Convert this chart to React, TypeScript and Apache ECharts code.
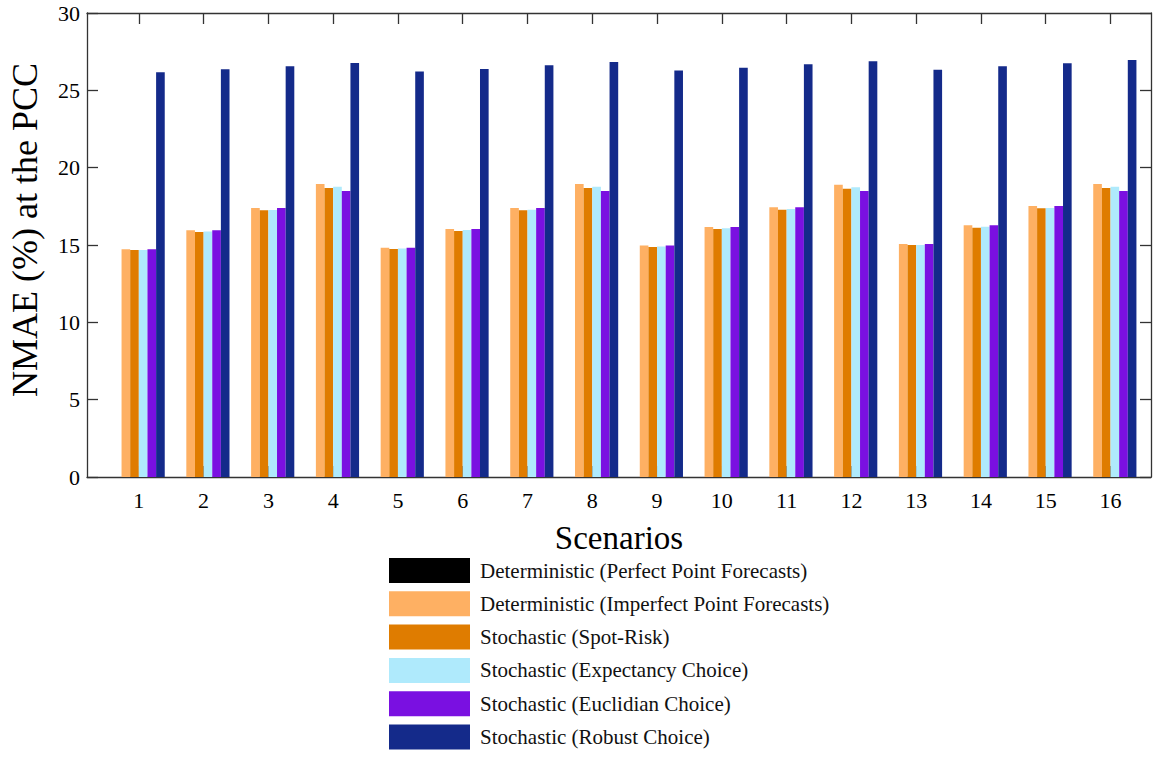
import React, { useEffect, useRef } from "react";
import * as echarts from "echarts";

const scenarios = [1, 2, 3, 4, 5, 6, 7, 8, 9, 10, 11, 12, 13, 14, 15, 16];
const yTicks = [0, 5, 10, 15, 20, 25, 30];

const perfect = [0, 0, 0, 0, 0, 0, 0, 0, 0, 0, 0, 0, 0, 0, 0, 0];
const imperfect = [14.72, 15.95, 17.39, 18.94, 14.83, 16.03, 17.39, 18.94, 14.96, 16.16, 17.44, 18.9, 15.06, 16.27, 17.52, 18.94];
const spotRisk = [14.68, 15.84, 17.24, 18.68, 14.74, 15.9, 17.24, 18.68, 14.87, 16.03, 17.28, 18.64, 15.0, 16.12, 17.37, 18.68];
const expectancy = [14.68, 15.88, 17.26, 18.77, 14.78, 15.97, 17.28, 18.77, 14.91, 16.08, 17.33, 18.73, 15.0, 16.18, 17.39, 18.77];
const euclidian = [14.72, 15.95, 17.39, 18.49, 14.83, 16.03, 17.39, 18.49, 14.96, 16.16, 17.44, 18.49, 15.06, 16.27, 17.52, 18.49];
const robust = [26.17, 26.36, 26.55, 26.77, 26.21, 26.38, 26.62, 26.83, 26.29, 26.46, 26.68, 26.88, 26.33, 26.55, 26.75, 26.96];

const seriesNames = [
  "Deterministic (Perfect Point Forecasts)",
  "Deterministic (Imperfect Point Forecasts)",
  "Stochastic (Spot-Risk)",
  "Stochastic (Expectancy Choice)",
  "Stochastic (Euclidian Choice)",
  "Stochastic (Robust Choice)",
];
const seriesColors = ["#000000", "#FEB063", "#DF7C00", "#AFEAFC", "#7A10E1", "#142A8A"];
const seriesValues = [perfect, imperfect, spotRisk, expectancy, euclidian, robust];

const FONT = "'Liberation Serif', 'Times New Roman', serif";
const FRAME = "#333333";

export default function App() {
  const ref = useRef<HTMLDivElement>(null);
  useEffect(() => {
    document.body.style.margin = "0";
    if (!ref.current) return;
    const chart = echarts.init(ref.current, undefined, { renderer: "svg" });
    const axisLine = { show: true, onZero: false, lineStyle: { color: FRAME, width: 1.3 } };
    const tick = { show: true, inside: true, length: 11, lineStyle: { color: FRAME, width: 1.3 } };
    chart.setOption({
      animation: false,
      backgroundColor: "#ffffff",
      grid: { left: 87, right: 9, top: 13, bottom: 281, containLabel: false },
      legend: {
        orient: "vertical",
        left: 389,
        top: 558,
        padding: 0,
        height: 200,
        itemWidth: 81,
        itemHeight: 25,
        itemGap: 8.3,
        icon: "rect",
        data: seriesNames,
        textStyle: { fontFamily: FONT, fontSize: 21, color: "#111", padding: [0, 0, 0, 5] },
      },
      xAxis: [
        {
          type: "value",
          min: 0.2,
          max: 16.625,
          position: "bottom",
          axisLine,
          axisTick: { ...tick, customValues: scenarios },
          axisLabel: { customValues: scenarios, fontFamily: FONT, fontSize: 22, color: "#000", margin: 12 },
          splitLine: { show: false },
          name: "Scenarios",
          nameLocation: "middle",
          nameGap: 44,
          nameTextStyle: { fontFamily: FONT, fontSize: 33, color: "#000" },
        },
        {
          type: "value",
          min: 0.2,
          max: 16.625,
          position: "top",
          axisLine,
          axisTick: { ...tick, customValues: scenarios },
          axisLabel: { show: false },
          splitLine: { show: false },
        },
      ],
      yAxis: [
        {
          type: "value",
          min: 0,
          max: 30,
          interval: 5,
          position: "left",
          axisLine,
          axisTick: { ...tick, customValues: yTicks },
          axisLabel: { customValues: yTicks, fontFamily: FONT, fontSize: 22, color: "#000", margin: 7 },
          splitLine: { show: false },
        },
        {
          type: "value",
          min: 0,
          max: 30,
          interval: 5,
          position: "right",
          axisLine,
          axisTick: { ...tick, customValues: yTicks },
          axisLabel: { show: false },
          splitLine: { show: false },
        },
      ],
      graphic: [
        {
          type: "text",
          x: 25,
          y: 230,
          rotation: Math.PI / 2,
          style: {
            text: "NMAE (%) at the PCC",
            fontFamily: FONT,
            fontSize: 36,
            fill: "#000",
            textAlign: "center",
            textVerticalAlign: "middle",
          },
        },
      ],
      series: seriesNames.map((name, k) => ({
        name,
        type: "bar",
        xAxisIndex: 0,
        yAxisIndex: 0,
        barWidth: 8.64,
        barGap: "0%",
        itemStyle: { color: seriesColors[k] },
        data: scenarios.map((s, i) => [s, seriesValues[k][i]]),
      })),
    });
    return () => chart.dispose();
  }, []);
  return <div ref={ref} style={{ width: 1160, height: 758 }} />;
}
